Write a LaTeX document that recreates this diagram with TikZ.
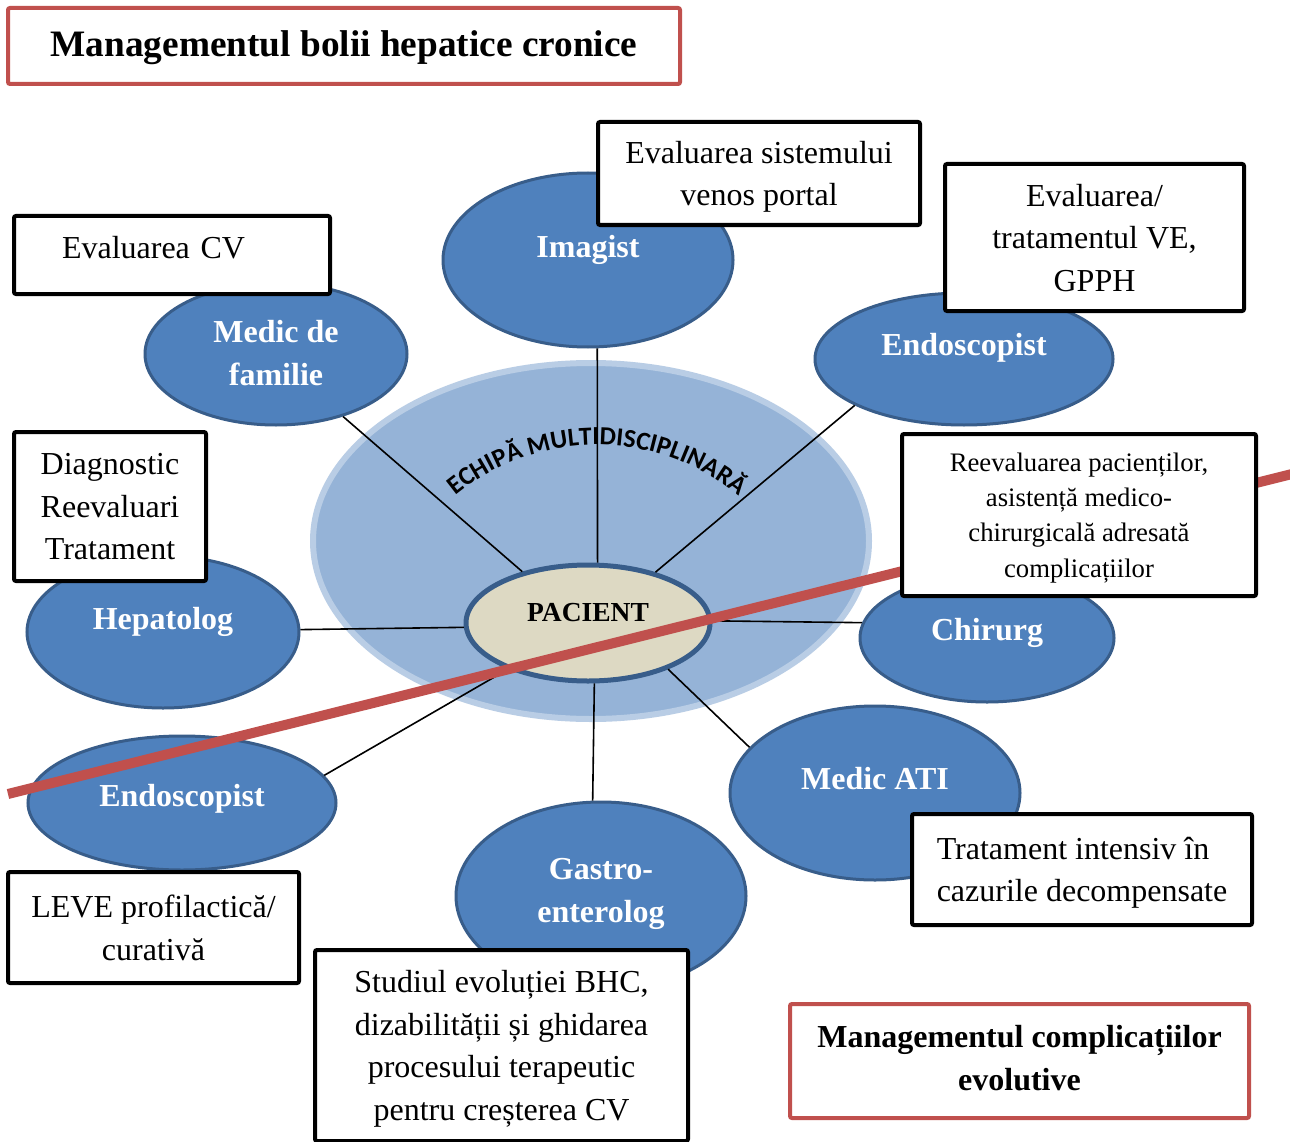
\documentclass[tikz,border=0pt]{standalone}
\usepackage{fontspec}
\setmainfont{Liberation Serif}
\newfontfamily\calibrifont{Carlito}
\usetikzlibrary{shapes.geometric,decorations.text}

\definecolor{midblue}{HTML}{4F81BD}
\definecolor{bordblue}{HTML}{385D8A}
\definecolor{teamfill}{HTML}{95B3D7}
\definecolor{teamedge}{HTML}{B9CDE5}
\definecolor{beige}{HTML}{DDD9C3}
\definecolor{boxred}{HTML}{C0504D}

\newcommand{\arcfmt}{\calibrifont\bfseries\fontsize{26}{26}\selectfont}
\newcommand{\bodyfont}{\fontsize{32}{42.5}\selectfont}
\newcommand{\smallbody}{\fontsize{26.7}{35.3}\selectfont}

\begin{document}
\begin{tikzpicture}[x=1pt,y=1pt,
  blob/.style={ellipse, draw=bordblue, line width=3pt, fill=midblue, inner sep=0pt},
  lbl/.style={text=white, font=\bodyfont\bfseries, align=center, inner sep=0pt},
  spoke/.style={line width=1.6pt, draw=black},
  box/.style={draw=black, line width=4pt, fill=white, rounded corners=2pt,
              align=center, font=\bodyfont, inner sep=0pt, text depth=0pt},
  redbox/.style={box, draw=boxred, font=\bodyfont\bfseries},
  redline/.style={draw=boxred, line width=10pt}]

\clip (0,0) rectangle (1290,-1142);
\fill[white] (0,0) rectangle (1290,-1142);

% team ellipse in the middle
\node[ellipse, fill=teamfill, draw=teamedge, line width=6pt,
      minimum width=556, minimum height=356, inner sep=0pt] (team) at (591,-541) {};

% specialists around the patient
\node[blob, minimum width=290, minimum height=174,
      label={[lbl, name=imagL, yshift=10]center:Imagist}] (imag) at (588,-260) {};
\node[blob, minimum width=262, minimum height=142,
      label={[lbl, name=familL, yshift=1]center:Medic de\\familie}] (famil) at (276,-354) {};
\node[blob, minimum width=298, minimum height=132,
      label={[lbl, name=endoRL, yshift=11]center:Endoscopist}] (endoR) at (964,-359) {};
\node[blob, minimum width=272, minimum height=152,
      label={[lbl, name=hepaL, yshift=10]center:Hepatolog}] (hepa) at (163,-632) {};
\node[blob, minimum width=254, minimum height=128,
      label={[lbl, name=chirL, yshift=5]center:Chirurg}] (chir) at (987,-638) {};
\node[blob, minimum width=290, minimum height=174,
      label={[lbl, name=atiL, yshift=14]center:Medic ATI}] (ati) at (875,-793) {};
\node[blob, minimum width=308, minimum height=134,
      label={[lbl, name=endoLL, yshift=4]center:Endoscopist}] (endoL) at (182,-803) {};
\node[blob, minimum width=290, minimum height=188,
      label={[lbl, name=gastroL, yshift=2]center:Gastro-\\enterolog}] (gastro) at (601,-896) {};

% patient
\node[ellipse, fill=beige, draw=bordblue, line width=5pt, inner sep=0pt,
      minimum width=244, minimum height=116,
      label={[name=pacL, font=\fontsize{27.5}{30}\selectfont\bfseries, inner sep=0pt, yshift=10]center:PACIENT}]
      (pac) at (588,-623) {};

% spokes
\draw[spoke] (famil.-43.7) -- (pac.142.7);
\draw[spoke] (imag.-84) -- (pac.81.5);
\draw[spoke] (endoR.-157.9) -- (pac.37.3);
\draw[spoke] (hepa.1) -- (pac.182);
\draw[spoke] (chir.173) -- (pac.1);
\draw[spoke] (ati.160) -- (pac.-30.6);
\draw[spoke] (gastro.95) -- (pac.-84);
\draw[spoke] (endoL.11.6) -- (pac.-150.8);

% curved team caption
\path[decorate, decoration={text along path, text align=center,
      text={|\arcfmt|ECHIPĂ MULTIDISCIPLINARĂ}}]
  (597,-668) ++(150:223) arc[start angle=150, end angle=30, radius=223];

% dividing line
\coordinate (rlA) at (8,-794);
\coordinate (rlB) at (1300,-472);
\draw[redline] (rlA) -- (rlB);

% task boxes
\node[box, minimum width=322, minimum height=103] (tImag) at (759,-173.5)
  {Evaluarea sistemului\\venos portal};
\node[box, minimum height=78, text width=220, inner xsep=48, align=left, text depth=16]
  (tFamil) at (172,-255) {Evaluarea CV};
\node[box, minimum width=299, minimum height=147] (tEndoR) at (1094.5,-237.5)
  {Evaluarea/\\tratamentul VE,\\GPPH};
\node[box, minimum width=192, minimum height=149] (tHepa) at (110,-506.5)
  {Diagnostic\\Reevaluari\\Tratament};
\node[box, font=\smallbody, minimum width=354, minimum height=162] (tChir) at (1079,-515)
  {Reevaluarea pacienților,\\asistență medico-\\chirurgicală adresată\\complicațiilor};
\node[box, align=left, minimum width=340, minimum height=111] (tAti) at (1082,-869.5)
  {Tratament intensiv în\\cazurile decompensate};
\node[box, minimum width=291, minimum height=111] (tEndoL) at (153.5,-927.5)
  {LEVE profilactică/\\curativă};
\node[box, minimum width=373, minimum height=191] (tGastro) at (501.5,-1045.5)
  {Studiul evoluției BHC,\\dizabilității și ghidarea\\procesului terapeutic\\pentru creșterea CV};

% headings
\node[redbox, font=\fontsize{37.3}{44}\selectfont\bfseries, minimum width=672, minimum height=76,
      text depth=4] (title) at (344,-46) {Managementul bolii hepatice cronice};
\node[redbox, minimum width=459, minimum height=114, text depth=6] (compl) at (1019.5,-1061)
  {Managementul complicațiilor\\evolutive};

\end{tikzpicture}
\end{document}
